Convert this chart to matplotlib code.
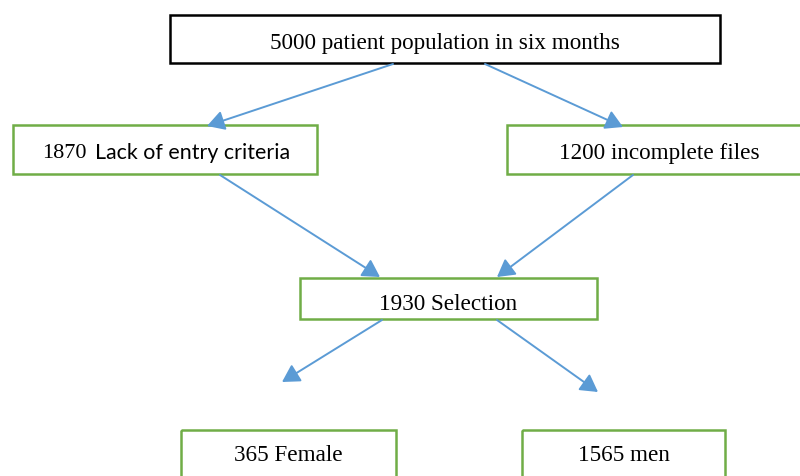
import matplotlib
matplotlib.use("Agg")
import matplotlib.pyplot as plt
from matplotlib.patches import Rectangle, FancyArrowPatch

# 流程图数据
counts = [5000, 1870, 1200, 1930, 365, 1565]
labels = ["patient population in six months", "Lack of entry criteria",
          "incomplete files", "Selection", "Female", "men"]
# 箭头连接 (起点框, 终点框)
links = [(0, 1), (0, 2), (1, 3), (2, 3), (3, 4), (3, 5)]

# 框位置 (x0, y0, x1, y1)，像素坐标，y 向下
boxes = [
    (170, 15, 720, 63),
    (13, 125, 317, 174),
    (507, 125, 801, 174),
    (300, 278, 597, 319),
    (181, 430, 396, 480),
    (522, 430, 725, 480),
]
# 文字中心 y
text_y = [41, 151, 151, 302, 453, 453]
# 箭头端点
arrow_pts = [
    ((393, 64), (207, 126)),
    ((485, 64), (623, 127)),
    ((220, 175), (380, 277)),
    ((633, 175), (497, 277)),
    ((382, 320), (282, 382)),
    ((497, 320), (598, 392)),
]

GREEN = "#70AD47"
BLUE = "#5B9BD5"
SERIF = "Liberation Serif"
FS = 16.7

fig = plt.figure(figsize=(8, 4.76), dpi=100)
ax = fig.add_axes([0, 0, 1, 1])
ax.set_xlim(0, 800)
ax.set_ylim(476, 0)
ax.axis("off")

for i, (x0, y0, x1, y1) in enumerate(boxes):
    edge = "black" if i == 0 else GREEN
    ax.add_patch(Rectangle((x0, y0), x1 - x0, y1 - y0, fill=False,
                           edgecolor=edge, linewidth=1.8))

for i, (cnt, lab) in enumerate(zip(counts, labels)):
    x0, y0, x1, y1 = boxes[i]
    cx = (x0 + x1) / 2
    cy = text_y[i]
    if i == 1:
        # 数字是 Times，其余是无衬线体
        ax.text(42, cy, f"{cnt}", fontsize=16, family=SERIF,
                ha="left", va="center_baseline")
        ax.text(95, cy, lab, fontsize=15.4, family="Lato",
                ha="left", va="center_baseline")
    elif i == 2:
        ax.text(659, cy, f"{cnt} {lab}", fontsize=FS, family=SERIF,
                ha="center", va="center_baseline")
    else:
        ax.text(cx, cy, f"{cnt} {lab}", fontsize=FS, family=SERIF,
                ha="center", va="center_baseline")

for (a, b), (p0, p1) in zip(links, arrow_pts):
    ax.add_patch(FancyArrowPatch(p0, p1, arrowstyle="-|>,head_length=7,head_width=4",
                                 color=BLUE, linewidth=1.4, mutation_scale=1.5,
                                 shrinkA=0, shrinkB=0))

fig.savefig("out.png", dpi=100)
